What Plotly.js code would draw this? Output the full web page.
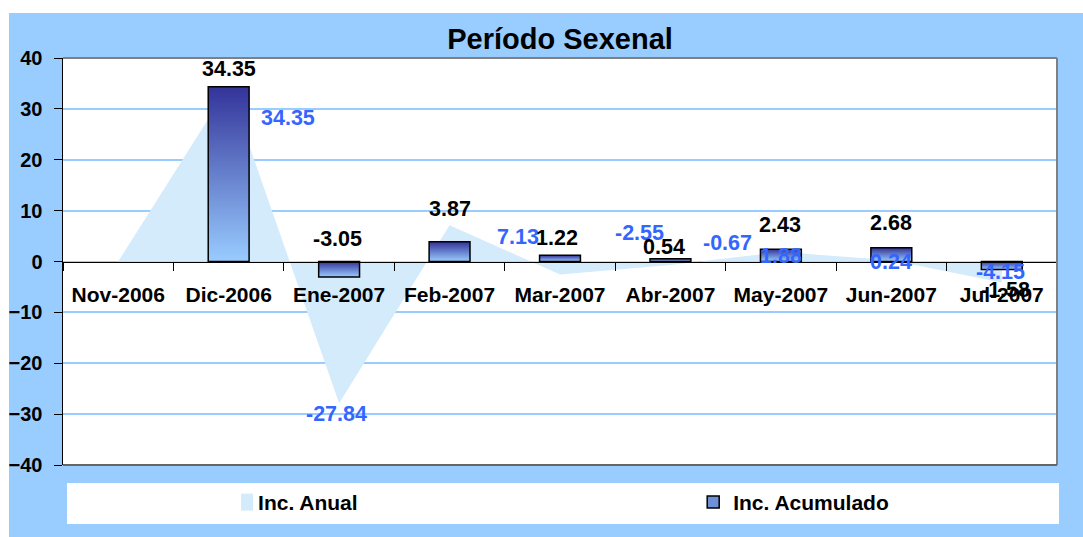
<!DOCTYPE html>
<html>
<head>
<meta charset="utf-8">
<script src="https://cdn.plot.ly/plotly-3.0.1.min.js"></script>
<style>
  html, body { margin: 0; padding: 0; background: #ffffff; }
  #chart { position: absolute; left: 9px; top: 13px; width: 1074px; height: 524px; }
</style>
</head>
<body>
<div id="chart"></div>
<script>
// ---- Data ----
var categories = ['Nov-2006', 'Dic-2006', 'Ene-2007', 'Feb-2007', 'Mar-2007', 'Abr-2007', 'May-2007', 'Jun-2007', 'Jul-2007'];
var incAnual = [0, 34.35, -27.84, 7.13, -2.55, -0.67, 1.88, 0.24, -4.15];
var incAcumulado = [null, 34.35, -3.05, 3.87, 1.22, 0.54, 2.43, 2.68, -1.58];
var yTickValues = [-40, -30, -20, -10, 0, 10, 20, 30, 40];

// ---- Label placement (pixel offsets from each data point, styling only) ----
var anualLabelShift = [null, [59, -31], [-3, -11], [68, -12], [79, 41], [57, 22], [0, -4], [0, -2], [-1, 11]];
var acumLabelShift = [null, [0, 18], [-2, 38], [0, 33], [-3, 17], [-6, 12], [-1, 24], [0, 25], [4, -20]];

var FONT = 'Liberation Sans, Arial, sans-serif';
var LABEL_SIZE = 21.5;

var traces = [
  {
    type: 'scatter',
    name: 'Inc. Anual',
    x: categories,
    y: incAnual,
    mode: 'none',
    fill: 'tozeroy',
    fillcolor: 'rgb(212,235,252)',
    xaxis: 'x',
    yaxis: 'y',
    legend: 'legend',
    hoverinfo: 'skip'
  },
  {
    type: 'bar',
    name: 'Inc. Acumulado',
    x: categories,
    y: incAcumulado,
    width: 0.37,
    marker: { color: '#6f8fd6', line: { color: '#000000', width: 1.5 } },
    xaxis: 'x',
    yaxis: 'y2',
    legend: 'legend2',
    hoverinfo: 'skip'
  }
];

var annotations = [];
categories.forEach(function (c, i) {
  if (anualLabelShift[i]) {
    annotations.push({
      x: c, y: incAnual[i], xref: 'x', yref: 'y',
      text: incAnual[i].toFixed(2), showarrow: false,
      xanchor: 'center', yanchor: 'middle',
      xshift: anualLabelShift[i][0], yshift: anualLabelShift[i][1],
      font: { family: FONT, size: LABEL_SIZE, color: '#3366FF', weight: 'bold' }
    });
  }
});
categories.forEach(function (c, i) {
  if (acumLabelShift[i] && incAcumulado[i] !== null) {
    annotations.push({
      x: c, y: incAcumulado[i], xref: 'x', yref: 'y',
      text: incAcumulado[i].toFixed(2), showarrow: false,
      xanchor: 'center', yanchor: 'middle',
      xshift: acumLabelShift[i][0], yshift: acumLabelShift[i][1],
      font: { family: FONT, size: LABEL_SIZE, color: '#000000', weight: 'bold' }
    });
  }
});

var legendFont = { family: FONT, size: 21, color: '#000000', weight: 'bold' };

var layout = {
  width: 1074,
  height: 524,
  paper_bgcolor: '#99CCFF',
  plot_bgcolor: '#FFFFFF',
  margin: { l: 54, r: 26, t: 45, b: 72, autoexpand: false },
  font: { family: FONT, size: 20, color: '#000000' },
  title: {
    text: 'Período Sexenal',
    font: { family: FONT, size: 29, color: '#000000', weight: 'bold' },
    x: 0.5, xref: 'paper', xanchor: 'center',
    y: 0.95, yref: 'container', yanchor: 'middle'
  },
  showlegend: true,
  legend: {
    orientation: 'h',
    x: 0.156, xanchor: 'left',
    y: -0.092, yanchor: 'middle',
    bgcolor: 'rgba(0,0,0,0)',
    font: legendFont
  },
  legend2: {
    orientation: 'h',
    x: 0.634, xanchor: 'left',
    y: -0.092, yanchor: 'middle',
    bgcolor: 'rgba(0,0,0,0)',
    font: legendFont
  },
  xaxis: {
    type: 'category',
    categoryarray: categories,
    anchor: 'free',
    position: 0.5,
    showline: true,
    linecolor: '#000000',
    linewidth: 1.5,
    ticks: 'outside',
    tickson: 'boundaries',
    ticklen: 8,
    tickwidth: 1,
    tickcolor: '#000000',
    ticklabelstandoff: 14,
    showgrid: false,
    zeroline: false,
    tickfont: { family: FONT, size: 21, color: '#000000', weight: 'bold' },
    fixedrange: true
  },
  yaxis: {
    range: [-40, 40],
    tickvals: yTickValues,
    showline: true,
    linecolor: '#000000',
    linewidth: 1.5,
    ticks: 'outside',
    ticklen: 8,
    tickcolor: '#000000',
    ticklabelstandoff: 7,
    showgrid: true,
    gridcolor: '#99CCFF',
    gridwidth: 2,
    zeroline: false,
    tickfont: { family: FONT, size: 20, color: '#000000', weight: 'bold' },
    fixedrange: true
  },
  yaxis2: {
    range: [-40, 40],
    overlaying: 'y',
    visible: false,
    showgrid: false,
    zeroline: false,
    fixedrange: true
  },
  shapes: [
    { type: 'rect', xref: 'paper', yref: 'paper', x0: 0.004, x1: 1.002, y0: -0.145, y1: -0.044,
      fillcolor: '#FFFFFF', line: { width: 0 }, layer: 'below' },
    { type: 'line', xref: 'paper', yref: 'paper', x0: 0, x1: 1, y0: 1, y1: 1,
      line: { color: '#808080', width: 2 }, layer: 'above' },
    { type: 'line', xref: 'paper', yref: 'paper', x0: 1, x1: 1, y0: 0, y1: 1,
      line: { color: '#808080', width: 2 }, layer: 'above' },
    { type: 'line', xref: 'paper', yref: 'paper', x0: 0, x1: 1, y0: 0, y1: 0,
      line: { color: '#666666', width: 2 }, layer: 'above' }
  ],
  annotations: annotations
};

var gd = document.getElementById('chart');

function applyGradient() {
  var svg = gd.querySelector('svg.main-svg');
  if (!svg) return;
  var ns = 'http://www.w3.org/2000/svg';
  if (!document.getElementById('barGrad')) {
    var defs = svg.querySelector('defs');
    if (!defs) { defs = document.createElementNS(ns, 'defs'); svg.insertBefore(defs, svg.firstChild); }
    var lg = document.createElementNS(ns, 'linearGradient');
    lg.setAttribute('id', 'barGrad');
    lg.setAttribute('x1', '0'); lg.setAttribute('y1', '0');
    lg.setAttribute('x2', '0'); lg.setAttribute('y2', '1');
    [['0%', '#333399'], ['100%', '#99CCFF']].forEach(function (s) {
      var st = document.createElementNS(ns, 'stop');
      st.setAttribute('offset', s[0]);
      st.setAttribute('stop-color', s[1]);
      lg.appendChild(st);
    });
    defs.appendChild(lg);
  }
  gd.querySelectorAll('.barlayer .point path').forEach(function (p) {
    p.style.fill = 'url(#barGrad)';
  });
  // legend symbols: small boxes just left of the legend text
  gd.querySelectorAll('.legend path.legendbar').forEach(function (p) {
    p.style.fill = 'url(#barGrad)';
    p.removeAttribute('transform');
    p.setAttribute('d', 'M26,-9h10v18h-10z');
  });
  gd.querySelectorAll('.legend g.legendfill path, .legend path.js-fill, .legend path.legendfill').forEach(function (p) {
    p.removeAttribute('transform');
    p.setAttribute('d', 'M23,-8.5h12v17h-12z');
  });
  gd.querySelectorAll('.legend g.legendlines path, .legend path.js-line').forEach(function (p) {
    p.style.display = 'none';
  });
}

Plotly.newPlot(gd, traces, layout, { displayModeBar: false, staticPlot: true }).then(function () {
  applyGradient();
  gd.on('plotly_afterplot', applyGradient);
});
</script>
</body>
</html>
